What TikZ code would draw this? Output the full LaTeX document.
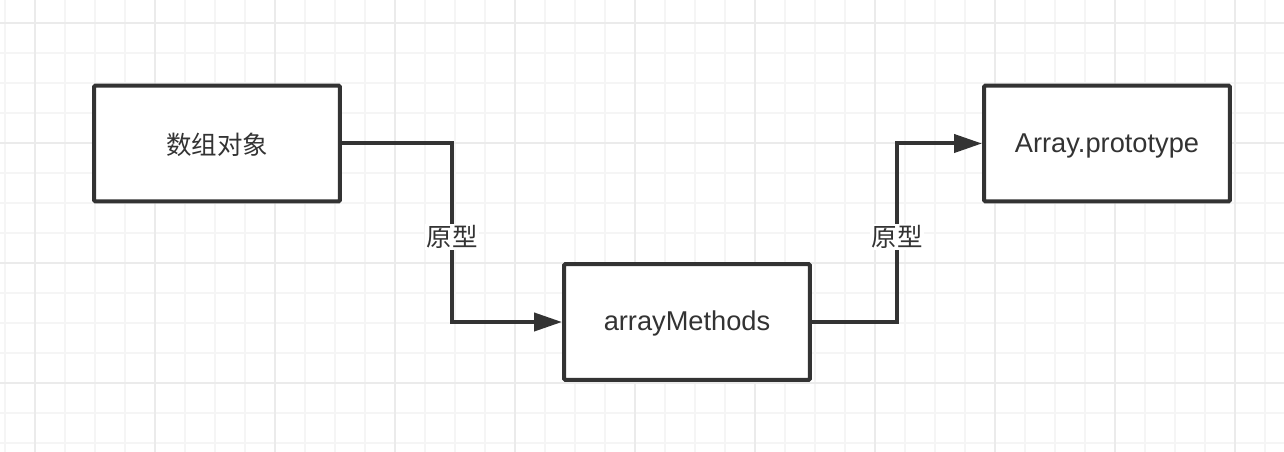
\documentclass[tikz,border=0pt]{standalone}
\usepackage{fontspec}
\setmainfont{Liberation Sans}
\newfontfamily\cjk{Noto Sans CJK SC}
\usepackage{xcolor}
\usepackage{tikz}
\usetikzlibrary{arrows.meta}
\definecolor{ink}{HTML}{333333}
\definecolor{minor}{HTML}{F5F5F5}
\definecolor{major}{HTML}{EBEBEB}
\tikzset{
  gridminor/.style={draw=minor, line width=0.04cm},
  gridmajor/.style={draw=major, line width=0.04cm},
  box/.style={draw=ink, line width=0.08cm, fill=white, rounded corners=0.03cm,
    minimum width=4.92cm, minimum height=2.32cm, text=ink,
    text height=0.46cm, text depth=0.1cm,
    font=\fontsize{15.5}{18}\selectfont},
  cjkbox/.style={box, text height=0.56cm, font=\cjk\fontsize{14.5}{17}\selectfont},
  conn/.style={draw=ink, line width=0.08cm, -{Triangle[length=0.56cm, width=0.36cm]}},
  lbl/.style={fill=white, text=ink, inner sep=1pt, font=\cjk\fontsize{14.5}{17}\selectfont}
}
\begin{document}
\begin{tikzpicture}[x=0.02cm, y=-0.02cm]
  \useasboundingbox (0,0) rectangle (1284,452);
  \fill[white] (0,0) rectangle (1284,452);

  % background grid
  \foreach \x in {5,35,...,1285} \draw[gridminor] (\x,0) -- (\x,452);
  \foreach \y in {23,53,...,452} \draw[gridminor] (0,\y) -- (1284,\y);
  \foreach \x in {35,155,...,1285} \draw[gridmajor] (\x,0) -- (\x,452);
  \foreach \y in {23,143,...,452} \draw[gridmajor] (0,\y) -- (1284,\y);

  \node[cjkbox] (obj) at (217,143.5) {数组对象};
  \node[box] (am) at (687,322) {arrayMethods};
  \node[box] (proto) at (1107,143.5) {Array.prototype};

  \coordinate (m1) at (452,237);
  \coordinate (m2) at (897,237);

  \draw[conn] (obj.east) -| (m1) |- (am.west);
  \draw[conn] (am.east) -| (m2) |- (proto.west);

  \node[lbl] (l1) at (m1) {原型};
  \node[lbl] (l2) at (m2) {原型};
\end{tikzpicture}
\end{document}
